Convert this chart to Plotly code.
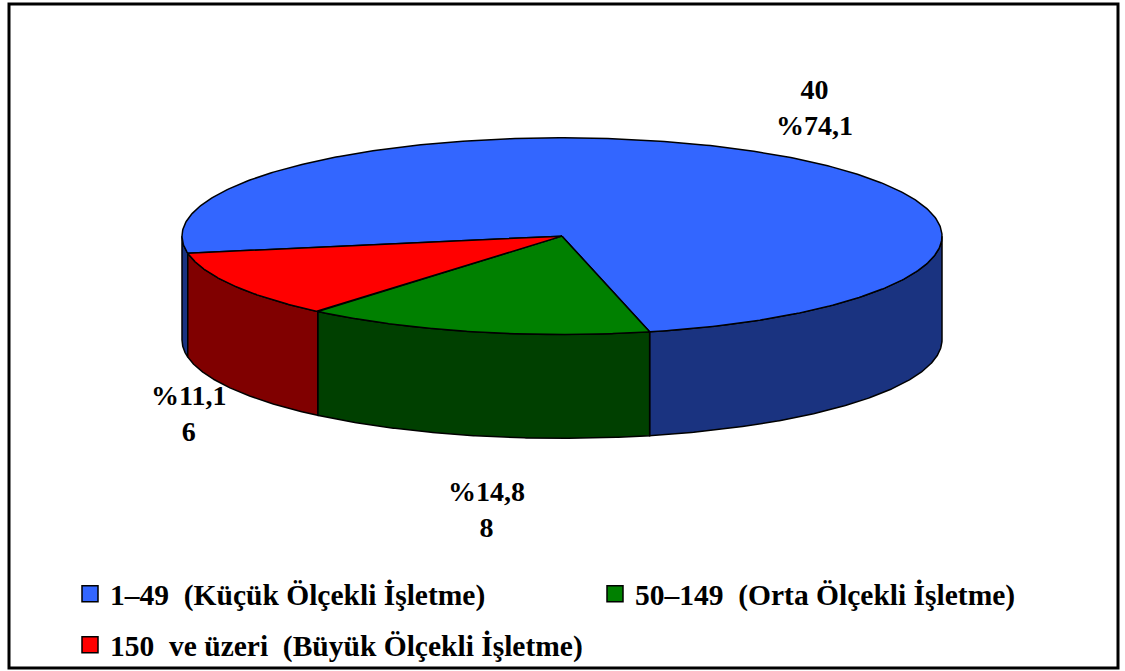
import numpy as np
import plotly.graph_objects as go

# --- data -------------------------------------------------------------
categories = [
    "1\u201349  (Küçük Ölçekli İşletme)",
    "50\u2013149  (Orta Ölçekli İşletme)",
    "150  ve üzeri  (Büyük Ölçekli İşletme)",
]
values = [40, 8, 6]
top_colors = ["#3366FF", "#008000", "#FF0000"]
side_colors = ["#1A3380", "#004000", "#800000"]
value_first = [True, False, False]          # label line order per slice

# --- canvas / pie geometry (pixel space) -------------------------------
W, H = 1125, 671
CX, CY = 562.0, 236.5      # centre of the top face
RX, RY = 380.0, 98.5       # ellipse radii of the top face
DEPTH = 104.0              # thickness of the disc
START_DEG = 170.0          # first slice starts here, slices run clockwise

SERIF = "Liberation Serif, Times New Roman, serif"

total = float(sum(values))
fracs = [v / total for v in values]
spans = [f * 360.0 for f in fracs]
starts = START_DEG + np.concatenate([[0.0], np.cumsum(spans)[:-1]])
ends = starts + np.array(spans)


def ell(t_deg, dy=0.0):
    t = np.radians(t_deg)
    return CX + RX * np.cos(t), CY + RY * np.sin(t) + dy


fig = go.Figure()

# side walls: only the front half (0..180 deg, repeated at 360..540) is seen
for i in range(len(values)):
    a, b = starts[i], ends[i]
    for lo, hi in [(0.0, 180.0), (360.0, 540.0)]:
        s, e = max(a, lo), min(b, hi)
        if e - s <= 0.01:
            continue
        t = np.linspace(s, e, 200)
        xt, yt = ell(t)
        xb, yb = ell(t[::-1], DEPTH)
        xs = np.concatenate([xt, xb, xt[:1]])
        ys = np.concatenate([yt, yb, yt[:1]])
        fig.add_trace(go.Scatter(
            x=xs, y=ys, mode="lines", fill="toself",
            fillcolor=side_colors[i],
            line=dict(color="black", width=1.5),
            hoverinfo="skip", showlegend=False))

# top faces
for i in range(len(values)):
    t = np.linspace(starts[i], ends[i], 400)
    xa, ya = ell(t)
    xs = np.concatenate([[CX], xa, [CX]])
    ys = np.concatenate([[CY], ya, [CY]])
    fig.add_trace(go.Scatter(
        x=xs, y=ys, mode="lines", fill="toself",
        fillcolor=top_colors[i],
        line=dict(color="black", width=1.5),
        hoverinfo="skip", showlegend=False))

# legend swatches
for i, name in enumerate(categories):
    fig.add_trace(go.Scatter(
        x=[None], y=[None], mode="markers", name=name,
        marker=dict(symbol="square", size=17, color=top_colors[i],
                    line=dict(color="black", width=1.5)),
        legend="legend" if i < 2 else "legend2"))

# data labels
label_pos = [(814, 108), (486, 510), (188, 414)]
annotations = []
for i, v in enumerate(values):
    pct = ("%" + f"{fracs[i] * 100:.1f}").replace(".", ",")
    lines = [str(v), pct] if value_first[i] else [pct, str(v)]
    annotations.append(dict(
        x=label_pos[i][0], y=label_pos[i][1], xref="x", yref="y",
        text="<br>".join(lines), showarrow=False,
        align="center",
        font=dict(family=SERIF, size=28, color="black", weight="bold")))

legend_font = dict(family=SERIF, size=29.5, color="black", weight="bold")
fig.update_layout(
    width=W, height=H,
    margin=dict(l=0, r=0, t=0, b=0),
    paper_bgcolor="white", plot_bgcolor="white",
    xaxis=dict(range=[0, W], visible=False, fixedrange=True),
    yaxis=dict(range=[H, 0], visible=False, fixedrange=True),
    showlegend=True,
    legend=dict(orientation="h", x=70 / W, xanchor="left",
                y=1 - 594 / H, yanchor="middle",
                entrywidth=480, font=legend_font,
                bgcolor="rgba(0,0,0,0)"),
    legend2=dict(orientation="h", x=70 / W, xanchor="left",
                 y=1 - 646 / H, yanchor="middle",
                 font=legend_font, bgcolor="rgba(0,0,0,0)"),
    annotations=annotations,
    shapes=[dict(type="rect", xref="paper", yref="paper",
                 x0=9 / W, x1=1118 / W, y0=1 - 669 / H, y1=1 - 4 / H,
                 line=dict(color="black", width=3))],
)

fig.write_html("out.html", config={"displayModeBar": False})
